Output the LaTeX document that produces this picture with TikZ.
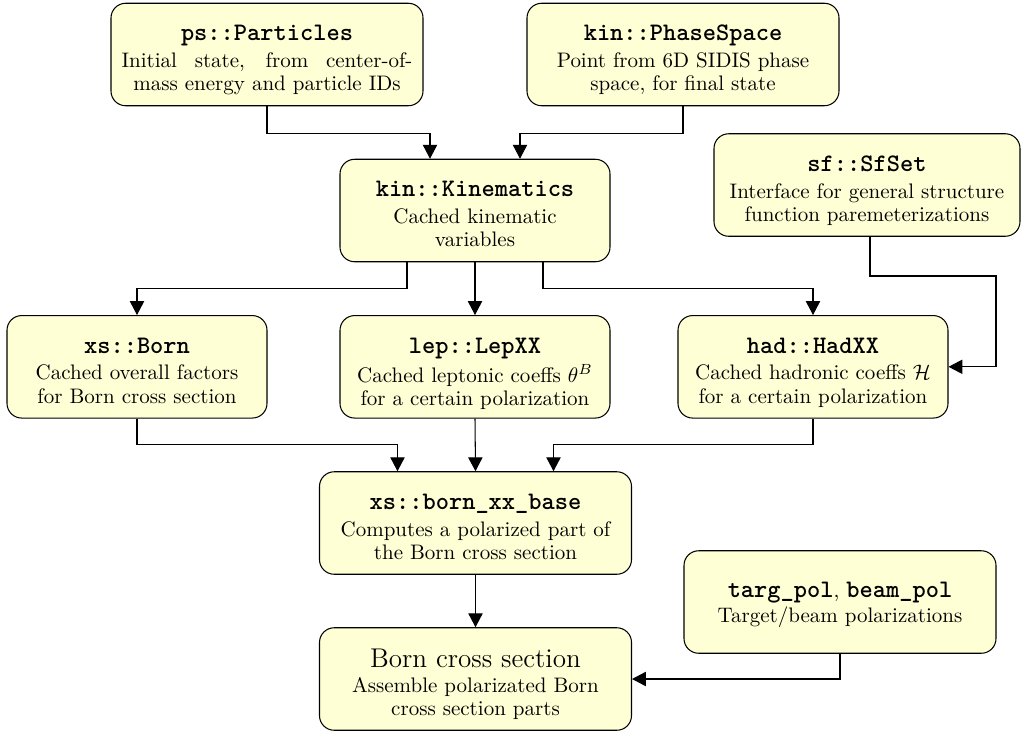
\documentclass[tikz,border=0pt]{standalone}
\usetikzlibrary{arrows.meta}
\definecolor{boxfill}{RGB}{255,255,214}
\def\u{0.4762pt}
\newcommand{\ttl}[1]{{\ttfamily\bfseries\large #1}}
\newcommand{\tstrut}{\rule{0pt}{10pt}}
\tikzset{
  box/.style={draw=black, line width=0.5pt, fill=boxfill, rounded corners=7pt,
    minimum height=102.5*\u, inner sep=0pt},
  txt/.style={align=center, inner sep=0pt, anchor=north,
    font=\fontsize{10}{11}\selectfont},
  conn/.style={line width=0.5pt, -{Triangle[length=6.6pt,width=6.8pt]}}
}
\begin{document}
\begin{tikzpicture}[x=0.4762pt,y=-0.4762pt]
\useasboundingbox (0,0) rectangle (1021,735);
% boxes
\node[box, minimum width=312*\u] (ps) at (267,54.5) {};
\node[box, minimum width=312*\u] (phs) at (683,54.5) {};
\node[box, minimum width=270*\u] (kin) at (475,210.5) {};
\node[box, minimum width=306*\u] (sf) at (867,185) {};
\node[box, minimum width=260*\u] (xsb) at (137,366.8) {};
\node[box, minimum width=270*\u] (lep) at (475,366.8) {};
\node[box, minimum width=270*\u] (had) at (813,366.8) {};
\node[box, minimum width=312*\u] (base) at (475.5,523) {};
\node[box, minimum width=312*\u] (pol) at (840,602) {};
\node[box, minimum width=312*\u] (bcs) at (475.5,679) {};
% texts
\node[txt] (pst) at ([yshift=-7.9pt]ps.north) {\tstrut\ttl{ps::Particles}\\[1.8pt] \makebox[138.5pt][s]{Initial state, from center-of-}\\ mass energy and particle IDs};
\node[txt] (phst) at ([yshift=-7.9pt]phs.north) {\tstrut\ttl{kin::PhaseSpace}\\[1.8pt] Point from 6D SIDIS phase\\ space, for final state};
\node[txt] (kint) at ([yshift=-7.9pt]kin.north) {\tstrut\ttl{kin::Kinematics}\\[1.8pt] Cached kinematic\\ variables};
\node[txt] (sft) at ([yshift=-7.9pt]sf.north) {\tstrut\ttl{sf::SfSet}\\[1.8pt] Interface for general structure\\ function paremeterizations};
\node[txt] (xsbt) at ([yshift=-7.9pt]xsb.north) {\tstrut\ttl{xs::Born}\\[1.8pt] Cached overall factors\\ for Born cross section};
\node[txt] (lept) at ([yshift=-7.9pt]lep.north) {\tstrut\ttl{lep::LepXX}\\[1.8pt] Cached leptonic coeffs $\theta^{B}$\\ for a certain polarization};
\node[txt] (hadt) at ([yshift=-7.9pt]had.north) {\tstrut\ttl{had::HadXX}\\[1.8pt] Cached hadronic coeffs $\mathcal{H}$\\ for a certain polarization};
\node[txt] (baset) at ([yshift=-7.9pt]base.north) {\tstrut\ttl{xs::born\_xx\_base}\\[1.8pt] Computes a polarized part of\\ the Born cross section};
\node[txt] (polt) at ([yshift=-12.2pt]pol.north) {\tstrut\ttl{targ\_pol}, \ttl{beam\_pol}\\[0.9pt] Target/beam polarizations};
\node[txt] (bcst) at ([yshift=-8.8pt]bcs.north) {\tstrut{\fontsize{12.9}{15}\selectfont Born cross section}\\[0.9pt] Assemble polarizated Born\\ cross section parts};
% connectors
\coordinate (sfbend) at (996,276);
\draw[conn] (ps.south) -- ++(0,27) -| ([xshift=-45*\u]kin.north);
\draw[conn] (phs.south) -- ++(0,27) -| ([xshift=45*\u]kin.north);
\draw[conn] ([xshift=-68*\u]kin.south) -- ++(0,26) -| (xsb.north);
\draw[conn] (kin.south) -- (lep.north);
\draw[conn] ([xshift=68*\u]kin.south) -- ++(0,26) -| (had.north);
\draw[conn] ([xshift=3*\u]sf.south) |- (sfbend) |- (had.east);
\draw[conn] (xsb.south) -- ++(0,26) -| ([xshift=-78*\u]base.north);
\draw[conn] (lep.south) -- (base.north);
\draw[conn] (had.south) -- ++(0,26) -| ([xshift=78*\u]base.north);
\draw[conn] (base.south) -- (bcs.north);
\draw[conn] (pol.south) |- (bcs.east);
\end{tikzpicture}
\end{document}
